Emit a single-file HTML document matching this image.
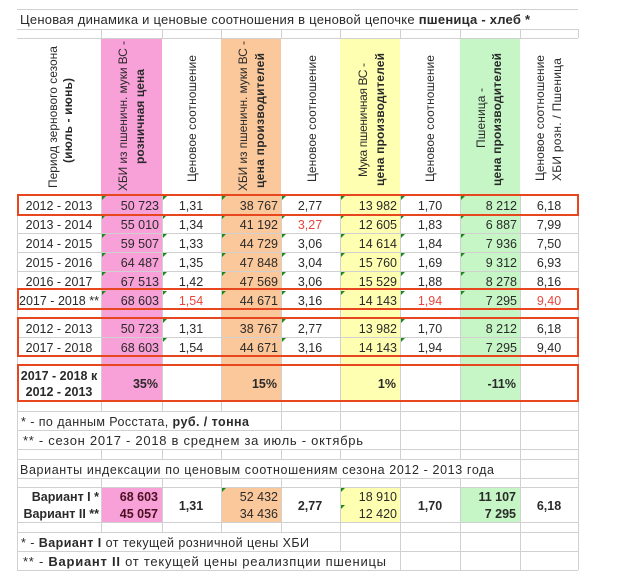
<!DOCTYPE html>
<html><head><meta charset="utf-8"><style>
body{margin:0;background:#fff}
svg{display:block;font-family:"Liberation Sans",sans-serif;}
text{fill:#2a2a2a;font-size:12.5px}
.b{font-weight:bold}
.r{text-anchor:end}
.c{text-anchor:middle}
.red{fill:#e8463c}
.h{font-size:12px}
</style></head><body>
<svg width="640" height="578" viewBox="0 0 640 578" xmlns="http://www.w3.org/2000/svg">
<rect width="640" height="578" fill="#fff"/>
<g>
<rect x="101" y="38" width="61" height="364" fill="#f8a0d8"/>
<rect x="221" y="38" width="60" height="364" fill="#fbc89b"/>
<rect x="340" y="38" width="60" height="364" fill="#ffffb2"/>
<rect x="460" y="38" width="60" height="364" fill="#c6f6c6"/>
<rect x="101" y="487" width="61" height="35" fill="#f8a0d8"/>
<rect x="221" y="487" width="60" height="35" fill="#fbc89b"/>
<rect x="340" y="487" width="60" height="35" fill="#ffffb2"/>
<rect x="460" y="487" width="60" height="35" fill="#c6f6c6"/>
</g>
<g stroke="#d0d0d0" stroke-width="1">
<line x1="17" x2="578" y1="9.5" y2="9.5"/>
<line x1="17" x2="578" y1="29.5" y2="29.5"/>
<line x1="17" x2="578" y1="38.5" y2="38.5"/>
<line x1="17" x2="578" y1="214.5" y2="214.5"/>
<line x1="17" x2="578" y1="233.5" y2="233.5"/>
<line x1="17" x2="578" y1="252.5" y2="252.5"/>
<line x1="17" x2="578" y1="271.5" y2="271.5"/>
<line x1="17" x2="578" y1="337.5" y2="337.5"/>
<line x1="17" x2="578" y1="411.5" y2="411.5"/>
<line x1="17" x2="578" y1="430.5" y2="430.5"/>
<line x1="17" x2="578" y1="449.5" y2="449.5"/>
<line x1="17" x2="578" y1="459.5" y2="459.5"/>
<line x1="17" x2="578" y1="478.5" y2="478.5"/>
<line x1="17" x2="578" y1="487.5" y2="487.5"/>
<line x1="17" x2="578" y1="522.5" y2="522.5"/>
<line x1="17" x2="578" y1="532.5" y2="532.5"/>
<line x1="17" x2="578" y1="551.5" y2="551.5"/>
<line x1="17" x2="578" y1="570.5" y2="570.5"/>
<line x1="17.5" x2="17.5" y1="195" y2="570"/>
<path d="M101.5 29V38M162.5 29V38M221.5 29V38M281.5 29V38M340.5 29V38M400.5 29V38M460.5 29V38M520.5 29V38M578.5 29V38"/>
<path d="M101.5 195V411M162.5 195V411M221.5 195V411M281.5 195V411M340.5 195V411M400.5 195V411M460.5 195V411M520.5 195V411M578.5 195V411"/>
<path d="M281.5 411V430M340.5 411V430M400.5 411V430M460.5 411V430M520.5 411V430M578.5 411V430"/>
<path d="M400.5 430V449M460.5 430V449M520.5 430V449M578.5 430V449"/>
<path d="M101.5 449V459M162.5 449V459M221.5 449V459M281.5 449V459M340.5 449V459M400.5 449V459M460.5 449V459M520.5 449V459M578.5 449V459"/>
<path d="M520.5 459V478M578.5 459V478"/>
<path d="M101.5 478V532M162.5 478V532M221.5 478V532M281.5 478V532M340.5 478V532M400.5 478V532M460.5 478V532M520.5 478V532M578.5 478V532"/>
<path d="M340.5 532V551M400.5 532V551M460.5 532V551M520.5 532V551M578.5 532V551"/>
<path d="M400.5 551V570M460.5 551V570M520.5 551V570M578.5 551V570"/>
</g>
<text x="20" y="24" style="font-size:13px" textLength="510">Ценовая динамика и ценовые соотношения в ценовой цепочке <tspan class="b">пшеница - хлеб *</tspan></text>
<g>
<text class="h" transform="translate(57,188) rotate(-90)" textLength="142">Период зернового сезона</text>
<text class="h b" transform="translate(72,163) rotate(-90)" textLength="85">(июль - июнь)</text>
<text class="h" transform="translate(127,191) rotate(-90)" textLength="150">ХБИ из пшеничн. муки ВС -</text>
<text class="h b" transform="translate(144,164) rotate(-90)" textLength="95">розничная цена</text>
<text class="h" transform="translate(196,182) rotate(-90)" textLength="127">Ценовое соотношение</text>
<text class="h" transform="translate(247,191) rotate(-90)" textLength="150">ХБИ из пшеничн. муки ВС -</text>
<text class="h b" transform="translate(264,188) rotate(-90)" textLength="135">цена производителей</text>
<text class="h" transform="translate(316,182) rotate(-90)" textLength="127">Ценовое соотношение</text>
<text class="h" transform="translate(367,177) rotate(-90)" textLength="114">Мука пшеничная ВС -</text>
<text class="h b" transform="translate(384,186) rotate(-90)" textLength="133">цена производителей</text>
<text class="h" transform="translate(434,182) rotate(-90)" textLength="127">Ценовое соотношение</text>
<text class="h" transform="translate(485,148) rotate(-90)" textLength="60">Пшеница -</text>
<text class="h b" transform="translate(501,186) rotate(-90)" textLength="133">цена производителей</text>
<text class="h" transform="translate(544,181) rotate(-90)" textLength="126">Ценовое соотношение</text>
<text class="h" transform="translate(561,181) rotate(-90)" textLength="123">ХБИ розн. / Пшеница</text>
</g>
<g>
<text class="c" x="59" y="210">2012 - 2013</text><text class="r" x="159" y="210">50 723</text><text class="c" x="191" y="210">1,31</text><text class="r" x="278" y="210">38 767</text><text class="c" x="310" y="210">2,77</text><text class="r" x="397" y="210">13 982</text><text class="c" x="430" y="210">1,70</text><text class="r" x="517" y="210">8 212</text><text class="c" x="549" y="210">6,18</text>
<text class="c" x="59" y="229">2013 - 2014</text><text class="r" x="159" y="229">55 010</text><text class="c" x="191" y="229">1,34</text><text class="r" x="278" y="229">41 192</text><text class="c red" x="310" y="229">3,27</text><text class="r" x="397" y="229">12 605</text><text class="c" x="430" y="229">1,83</text><text class="r" x="517" y="229">6 887</text><text class="c" x="549" y="229">7,99</text>
<text class="c" x="59" y="248">2014 - 2015</text><text class="r" x="159" y="248">59 507</text><text class="c" x="191" y="248">1,33</text><text class="r" x="278" y="248">44 729</text><text class="c" x="310" y="248">3,06</text><text class="r" x="397" y="248">14 614</text><text class="c" x="430" y="248">1,84</text><text class="r" x="517" y="248">7 936</text><text class="c" x="549" y="248">7,50</text>
<text class="c" x="59" y="267">2015 - 2016</text><text class="r" x="159" y="267">64 487</text><text class="c" x="191" y="267">1,35</text><text class="r" x="278" y="267">47 848</text><text class="c" x="310" y="267">3,04</text><text class="r" x="397" y="267">15 760</text><text class="c" x="430" y="267">1,69</text><text class="r" x="517" y="267">9 312</text><text class="c" x="549" y="267">6,93</text>
<text class="c" x="59" y="286">2016 - 2017</text><text class="r" x="159" y="286">67 513</text><text class="c" x="191" y="286">1,42</text><text class="r" x="278" y="286">47 569</text><text class="c" x="310" y="286">3,06</text><text class="r" x="397" y="286">15 529</text><text class="c" x="430" y="286">1,88</text><text class="r" x="517" y="286">8 278</text><text class="c" x="549" y="286">8,16</text>
<text class="c" x="59" y="305">2017 - 2018 **</text><text class="r" x="159" y="305">68 603</text><text class="c red" x="191" y="305">1,54</text><text class="r" x="278" y="305">44 671</text><text class="c" x="310" y="305">3,16</text><text class="r" x="397" y="305">14 143</text><text class="c red" x="430" y="305">1,94</text><text class="r" x="517" y="305">7 295</text><text class="c red" x="549" y="305">9,40</text>
<text class="c" x="59" y="333">2012 - 2013</text><text class="r" x="159" y="333">50 723</text><text class="c" x="191" y="333">1,31</text><text class="r" x="278" y="333">38 767</text><text class="c" x="310" y="333">2,77</text><text class="r" x="397" y="333">13 982</text><text class="c" x="430" y="333">1,70</text><text class="r" x="517" y="333">8 212</text><text class="c" x="549" y="333">6,18</text>
<text class="c" x="59" y="352">2017 - 2018</text><text class="r" x="159" y="352">68 603</text><text class="c" x="191" y="352">1,54</text><text class="r" x="278" y="352">44 671</text><text class="c" x="310" y="352">3,16</text><text class="r" x="397" y="352">14 143</text><text class="c" x="430" y="352">1,94</text><text class="r" x="517" y="352">7 295</text><text class="c" x="549" y="352">9,40</text>
<text class="c b" x="59" y="380">2017 - 2018 к</text><text class="c b" x="59" y="396">2012 - 2013</text>
<text class="r b" x="158" y="388">35%</text><text class="r b" x="277" y="388">15%</text><text class="r b" x="396" y="388">1%</text><text class="r b" x="516" y="388">-11%</text>
</g>
<g fill="#1a8a1a">
<path d="M102 196h4l-4 4zM163 196h4l-4 4zM222 196h4l-4 4zM282 196h4l-4 4zM341 196h4l-4 4zM401 196h4l-4 4zM461 196h4l-4 4z"/>
<path d="M102 215h4l-4 4zM163 215h4l-4 4zM222 215h4l-4 4zM282 215h4l-4 4zM341 215h4l-4 4zM401 215h4l-4 4zM461 215h4l-4 4z"/>
<path d="M102 234h4l-4 4zM163 234h4l-4 4zM222 234h4l-4 4zM282 234h4l-4 4zM341 234h4l-4 4zM401 234h4l-4 4zM461 234h4l-4 4z"/>
<path d="M102 253h4l-4 4zM163 253h4l-4 4zM222 253h4l-4 4zM282 253h4l-4 4zM341 253h4l-4 4zM401 253h4l-4 4zM461 253h4l-4 4z"/>
<path d="M102 272h4l-4 4zM163 272h4l-4 4zM222 272h4l-4 4zM282 272h4l-4 4zM341 272h4l-4 4zM401 272h4l-4 4zM461 272h4l-4 4z"/>
<path d="M102 291h4l-4 4zM163 291h4l-4 4zM222 291h4l-4 4zM282 291h4l-4 4zM341 291h4l-4 4zM401 291h4l-4 4zM461 291h4l-4 4z"/>
<path d="M163 319h4l-4 4zM282 319h4l-4 4zM401 319h4l-4 4zM163 338h4l-4 4zM282 338h4l-4 4zM401 338h4l-4 4z"/>
<path d="M222 488h4l-4 4zM341 488h4l-4 4zM341 505h4l-4 4z"/>
</g>
<g fill="none" stroke="#e8461e" stroke-width="2">
<rect x="18" y="195" width="560" height="20"/>
<rect x="18" y="289" width="560" height="20"/>
<rect x="18" y="318" width="560" height="38"/>
<rect x="18" y="365" width="560" height="36"/>
</g>
<text x="21" y="426" textLength="228">* - по данным Росстата, <tspan class="b">руб. / тонна</tspan></text>
<text x="23" y="445" style="font-size:13px" textLength="340">** - сезон 2017 - 2018 в среднем за июль - октябрь</text>
<text x="20" y="474" textLength="474">Варианты индексации по ценовым соотношениям сезона 2012 - 2013 года</text>
<text class="r b" x="99" y="501">Вариант I *</text><text class="r b" x="99" y="518">Вариант II **</text>
<text class="r b" x="158" y="501" style="fill:#4a1020">68 603</text><text class="r b" x="158" y="518" style="fill:#4a1020">45 057</text>
<text class="c b" x="191" y="510">1,31</text>
<text class="r" x="278" y="501">52 432</text><text class="r" x="278" y="518">34 436</text>
<text class="c b" x="310" y="510">2,77</text>
<text class="r" x="397" y="501">18 910</text><text class="r" x="397" y="518">12 420</text>
<text class="c b" x="430" y="510">1,70</text>
<text class="r b" x="516" y="501">11 107</text><text class="r b" x="516" y="518">7 295</text>
<text class="c b" x="549" y="510">6,18</text>
<text x="21" y="547" textLength="288">* - <tspan class="b">Вариант I</tspan> от текущей розничной цены ХБИ</text>
<text x="23" y="566" style="font-size:13px" textLength="363">** - <tspan class="b">Вариант II</tspan> от текущей цены реализпции пшеницы</text>
</svg>
</body></html>
